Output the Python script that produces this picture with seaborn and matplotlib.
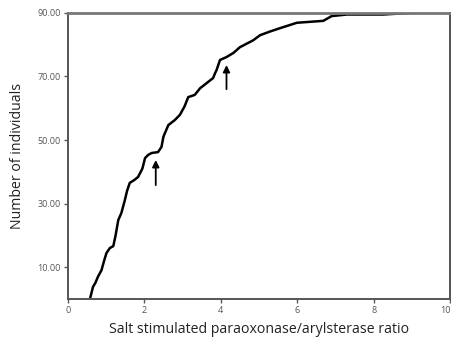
import numpy as np
import pandas as pd
import matplotlib
matplotlib.use('Agg')
import matplotlib.pyplot as plt
import seaborn as sns

# Cumulative curve
ratio = [0.58, 0.66, 0.72, 0.79, 0.88, 0.95, 1.01, 1.10, 1.19, 1.25, 1.32, 1.40,
         1.49, 1.55, 1.62, 1.75, 1.84, 1.95, 2.02, 2.10, 2.19, 2.36, 2.45, 2.50,
         2.54, 2.63, 2.80, 2.93, 3.05, 3.15, 3.32, 3.46, 3.63, 3.80, 3.85, 3.89,
         3.98, 4.15, 4.33, 4.50, 4.85, 5.03, 5.30, 5.55, 5.99, 6.68, 6.90, 7.30,
         8.25, 8.95]
individuals = [0, 3.8, 5, 7, 9, 12, 14.4, 16, 16.6, 20, 24.8, 27,
               31, 34, 36.5, 37.5, 38.4, 41, 44.3, 45.3, 45.9, 46.2, 47.8, 51,
               52.2, 54.7, 56.3, 57.9, 60.5, 63.5, 64.2, 66.3, 67.9, 69.5, 71, 72,
               75.2, 76.1, 77.4, 79.2, 81.4, 83, 84.2, 85.2, 86.9, 87.5, 89, 89.5,
               89.5, 90]

# Arrows (x, tip y, tail y)
arrow_x = [2.30, 4.15]
arrow_tip = [43.7, 73.6]
arrow_tail = [35.8, 66.0]

y_ticks = [10, 30, 50, 70, 90]
x_ticks = [0, 2, 4, 6, 8, 10]

df = pd.DataFrame({'ratio': ratio, 'individuals': individuals})

sns.set_style('white')
plt.rcParams['font.family'] = ['Open Sans', 'DejaVu Sans']

fig = plt.figure(figsize=(4.52, 3.40), dpi=100)
ax = fig.add_axes([0.150, 0.121, 0.846, 0.841])

sns.lineplot(x='ratio', y='individuals', data=df, color='black', linewidth=1.8,
             ax=ax, sort=False)

for x, tip, tail in zip(arrow_x, arrow_tip, arrow_tail):
    ax.annotate('', xy=(x, tip), xytext=(x, tail),
                arrowprops=dict(arrowstyle='-|>', color='black', lw=1.3,
                                mutation_scale=10, shrinkA=0, shrinkB=0))

ax.set_xlim(0, 10)
ax.set_ylim(0, 90)
ax.set_xticks(x_ticks)
ax.set_xticklabels([str(t) for t in x_ticks])
ax.get_xticklabels()[-1].set_horizontalalignment('right')
ax.set_yticks(y_ticks)
ax.set_yticklabels(['%.2f' % t for t in y_ticks])
ax.tick_params(axis='both', direction='out', length=3, width=1, color='#555555',
               labelsize=6.5, labelcolor='#555555', pad=2,
               bottom=True, left=True)

for side in ['top', 'right', 'left', 'bottom']:
    ax.spines[side].set_visible(True)
    ax.spines[side].set_color('#555555')
    ax.spines[side].set_linewidth(1.4)
ax.spines['top'].set_color('#777777')
ax.spines['top'].set_linewidth(2)

ax.set_xlabel('Salt stimulated paraoxonase/arylsterase ratio', fontsize=10.2,
              color='#222222', labelpad=5)
ax.set_ylabel('Number of individuals', fontsize=10.2, color='#222222', labelpad=9)

plt.savefig('out.png', dpi=100)
